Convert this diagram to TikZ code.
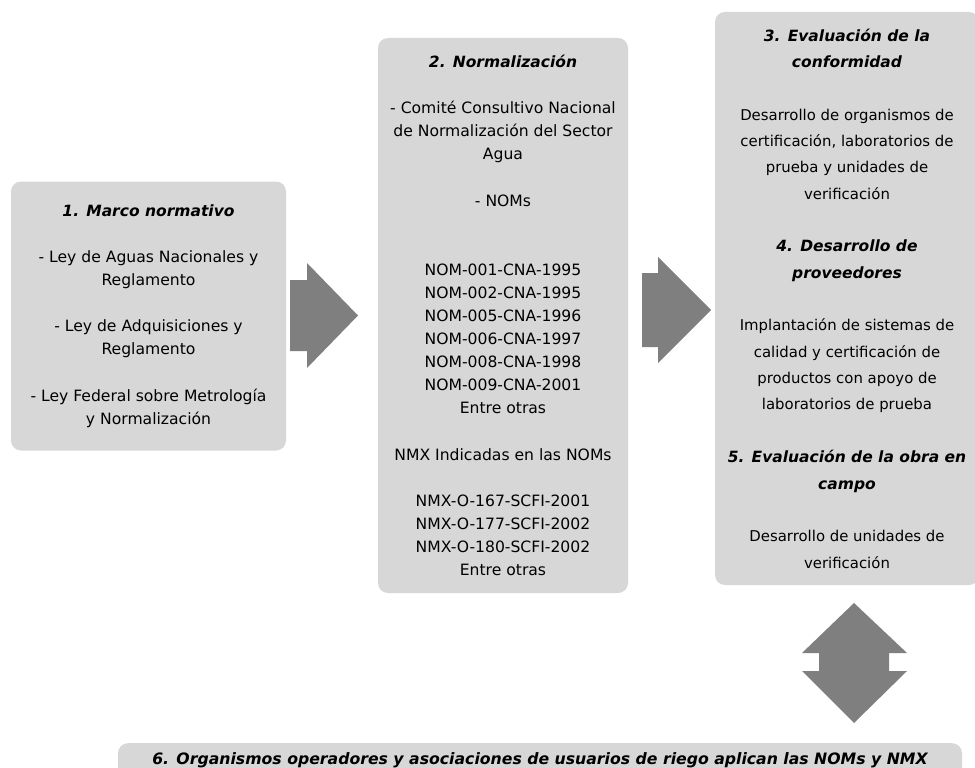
\documentclass[tikz,border=0pt]{standalone}
\usepackage{fontspec}
\setmainfont{DejaVu Sans}
\newfontfamily\ttlfont{DejaVu Sans}
\definecolor{boxgray}{RGB}{215,215,215}
\definecolor{arrgray}{RGB}{127,127,127}
\newcommand\ttl[1]{{\ttlfont\bfseries\itshape\fontsize{15.5}{\baselineskip}\selectfont #1}}
\tikzset{
  panel/.style={fill=boxgray, draw=none, rounded corners=10pt, align=center, inner sep=0pt, text=black},
  blockarrow/.style={fill=arrgray, draw=none}
}
\begin{document}
\begin{tikzpicture}[x=1pt,y=-1pt]
\clip (0,0) rectangle (975,768);
\fill[white] (0,0) rectangle (975,768);

% Box 1
\node[panel, minimum width=275pt, minimum height=269pt,
  font={\fontsize{15.6}{23.1}\selectfont}] (b1) at (148.5,316) {%
\ttl{1. Marco normativo}\\[23.1pt]
- Ley de Aguas Nacionales y\\
Reglamento\\[23.1pt]
- Ley de Adquisiciones y\\
Reglamento\\[23.1pt]
- Ley Federal sobre Metrología\\
y Normalización};

% Box 2
\node[panel, minimum width=250pt, minimum height=555pt,
  font={\fontsize{15.6}{23.1}\selectfont}] (b2) at (503,315.5) {%
\ttl{2. Normalización}\\[23.1pt]
- Comité Consultivo Nacional\\
de Normalización del Sector\\
Agua\\[23.1pt]
- NOMs\\[46.2pt]
NOM-001-CNA-1995\\
NOM-002-CNA-1995\\
NOM-005-CNA-1996\\
NOM-006-CNA-1997\\
NOM-008-CNA-1998\\
NOM-009-CNA-2001\\
Entre otras\\[23.1pt]
NMX Indicadas en las NOMs\\[23.1pt]
NMX-O-167-SCFI-2001\\
NMX-O-177-SCFI-2002\\
NMX-O-180-SCFI-2002\\
Entre otras};

% Box 3
\node[panel, minimum width=264pt, minimum height=573pt,
  font={\fontsize{14.9}{26.35}\selectfont}] (b3) at (847,298.5) {%
\ttl{3. Evaluación de la}\\
\ttl{conformidad}\\[26.35pt]
Desarrollo de organismos de\\
certificación, laboratorios de\\
prueba y unidades de\\
verificación\\[26.35pt]
\ttl{4. Desarrollo de}\\
\ttl{proveedores}\\[26.35pt]
Implantación de sistemas de\\
calidad y certificación de\\
productos con apoyo de\\
laboratorios de prueba\\[26.35pt]
\ttl{5. Evaluación de la obra en}\\
\ttl{campo}\\[26.35pt]
Desarrollo de unidades de\\
verificación};

% Box 6
\node[panel, anchor=north, minimum width=844pt, inner ysep=7pt, text height=14pt, text depth=40pt,
  font={\fontsize{15.7}{23.1}\selectfont}] (b6) at (540,743) {%
{\ttlfont\bfseries\itshape 6. Organismos operadores y asociaciones de usuarios de riego aplican las NOMs y NMX}};

% Block arrows
\fill[blockarrow] (290,280) -- (307,280) -- (307,263) -- (358,315.5) -- (307,368) -- (307,351) -- (290,351) -- cycle;
\fill[blockarrow] (642,273) -- (658,273) -- (658,257) -- (711,310) -- (658,363) -- (658,347) -- (642,347) -- cycle;
\fill[blockarrow] (854,603) -- (907,653) -- (889,653) -- (889,671) -- (907,671) -- (854,723)
  -- (802,671) -- (819,671) -- (819,653) -- (802,653) -- cycle;
\end{tikzpicture}
\end{document}
